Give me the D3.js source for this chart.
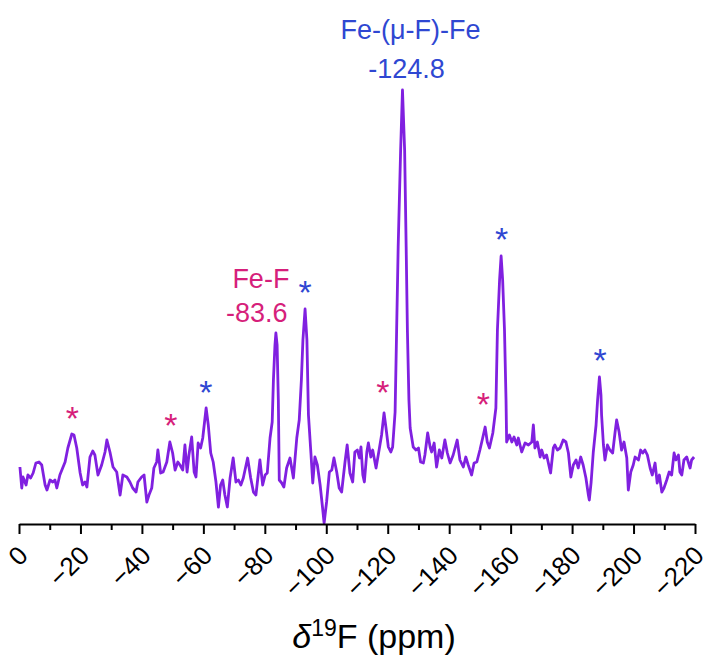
<!DOCTYPE html>
<html>
<head>
<meta charset="utf-8">
<script src="https://cdn.jsdelivr.net/npm/d3@7/dist/d3.min.js"></script>
<style>
  html, body { margin: 0; padding: 0; background: #fff; }
  svg { display: block; font-family: Arial, "Liberation Sans", sans-serif; }
</style>
</head>
<body>
<svg id="chart" width="711" height="656"></svg>
<script>
// 19F NMR spectrum: chemical shift (ppm) and intensity (a.u.)
const shiftPpm = [
  -0.3, -0.9, -1.3, -2.3, -2.9, -3.8, -4.6, -5.5, -6.5, -7.4, -8.5, -9.1, -10.1, -11.0, -11.7, -12.3,
  -13.3, -15.0, -15.9, -17.2, -17.9, -18.8, -19.9, -20.7, -21.5, -22.1, -23.1, -24.0, -24.7, -25.7,
  -26.9, -28.0, -28.6, -29.6, -30.6, -31.8, -32.9, -33.8, -35.1, -36.1, -37.0, -38.1, -38.7, -39.9,
  -40.7, -41.6, -42.3, -43.2, -43.9, -44.8, -45.2, -46.1, -46.9, -48.1, -49.1, -50.0, -50.8, -51.7,
  -52.4, -53.3, -54.0, -54.7, -55.3, -56.2, -57.0, -57.6, -58.3, -59.1, -59.8, -60.9, -61.6, -62.4,
  -63.2, -64.1, -64.9, -65.6, -66.3, -67.0, -67.8, -68.7, -69.7, -70.6, -71.4, -72.2, -73.0, -74.4,
  -75.4, -76.3, -77.1, -78.4, -79.3, -80.1, -80.8, -81.7, -82.4, -82.8, -83.3, -83.6, -84.0, -84.4,
  -84.7, -85.5, -86.2, -87.1, -88.2, -89.3, -90.4, -91.2, -91.9, -92.4, -93.1, -93.7, -94.2, -95.0,
  -95.6, -96.3, -97.1, -98.0, -98.8, -99.3, -100.1, -101.0, -101.8, -102.5, -103.4, -104.2, -105.0,
  -106.1, -106.8, -107.7, -108.6, -109.3, -110.1, -110.8, -111.3, -111.9, -112.4, -113.2, -113.7,
  -114.5, -115.1, -116.2, -117.3, -118.0, -118.8, -119.4, -120.2, -121.0, -121.6, -122.4, -122.9,
  -123.4, -124.2, -124.8, -125.5, -126.0, -126.4, -126.9, -127.3, -128.3, -129.2, -130.0, -130.7,
  -131.6, -132.1, -133.0, -133.8, -134.3, -135.1, -135.9, -136.8, -137.6, -138.6, -139.4, -140.3,
  -141.3, -142.6, -143.5, -144.6, -145.4, -146.2, -147.3, -148.1, -149.0, -150.0, -150.9, -151.7,
  -152.4, -153.1, -154.2, -155.2, -155.7, -156.4, -156.9, -157.4, -158.0, -158.5, -158.7, -159.6,
  -160.4, -161.1, -162.0, -162.5, -163.6, -164.7, -165.8, -166.9, -167.4, -167.9, -168.7, -169.6,
  -170.1, -170.9, -171.7, -173.0, -173.9, -174.4, -175.2, -176.1, -177.1, -178.0, -178.8, -179.6,
  -180.4, -181.3, -182.0, -182.8, -183.6, -184.5, -185.3, -185.6, -186.2, -186.9, -187.8, -188.3,
  -188.9, -189.4, -189.6, -190.2, -190.7, -191.5, -192.3, -193.2, -194.0, -194.5, -195.3, -196.1,
  -196.9, -197.8, -198.3, -199.1, -199.9, -200.5, -201.6, -202.3, -203.0, -203.7, -204.5, -205.4,
  -206.1, -207.0, -207.7, -208.4, -209.2, -209.9, -210.8, -211.6, -212.4, -213.2, -213.8, -214.6,
  -215.1, -215.7, -216.4, -217.3, -217.8, -218.4, -218.9, -219.7
];
const intensity = [
  57, 36, 47, 39, 49, 46, 51, 61, 62, 59, 39, 34, 44, 42, 44, 36,
  49, 62, 76, 90, 89, 76, 51, 39, 42, 37, 67, 73, 69, 49,
  59, 72, 84, 72, 57, 52, 29, 49, 47, 42, 36, 32, 42, 47,
  49, 22, 29, 36, 56, 62, 74, 51, 52, 62, 82, 71, 54, 62,
  59, 54, 79, 52, 69, 87, 52, 47, 81, 76, 86, 116, 99, 71,
  62, 42, 17, 39, 44, 29, 17, 46, 66, 42, 44, 39, 46, 66,
  46, 32, 29, 64, 39, 49, 51, 86, 102, 144, 179, 191, 179, 124,
  44, 41, 37, 56, 66, 46, 86, 104, 144, 184, 215, 184, 109, 71,
  41, 67, 59, 39, 16, 1, 22, 52, 54, 66, 52, 36, 32,
  62, 79, 51, 42, 72, 74, 66, 77, 49, 42, 72, 81,
  67, 74, 56, 76, 89, 111, 97, 77, 72, 77, 112, 194,
  277, 374, 434, 374, 277, 194, 124, 96, 77, 74, 76, 62,
  61, 69, 91, 77, 72, 81, 57, 74, 66, 84, 71, 61,
  69, 84, 64, 57, 67, 59, 49, 61, 62, 74, 86, 97,
  82, 76, 91, 116, 194, 244, 268, 244, 194, 124, 82, 89,
  82, 87, 79, 86, 72, 81, 79, 82, 99, 76, 82, 67,
  74, 66, 69, 51, 76, 79, 74, 76, 84, 82, 71, 47,
  59, 64, 56, 67, 59, 46, 29, 24, 42, 72, 99, 124,
  147, 129, 109, 79, 64, 79, 74, 71, 92, 104, 92, 74,
  82, 66, 34, 52, 59, 67, 64, 74, 71, 74, 69, 56,
  49, 61, 41, 49, 32, 36, 44, 52, 49, 71, 64, 69,
  52, 49, 64, 67, 62, 56, 64, 67
];

// Axis ticks
const majorTicks = [0, -20, -40, -60, -80, -100, -120, -140, -160, -180, -200, -220];
const minorTicks = [-10, -30, -50, -70, -90, -110, -130, -150, -170, -190, -210];

// Spinning sidebands (*) — shift and height of each marker
const pinkStarShift = [-17.35, -49.4, -118.4, -151.1];
const pinkStarHeight = [113, 106, 139.5, 127];
const blueStarShift = [-60.8, -93.1, -157.1, -189.1];
const blueStarHeight = [139, 239.5, 292, 171];

// Assigned resonances
const peakLabels = ["Fe-F", "Fe-(μ-F)-Fe"];
const peakShifts = [-83.6, -124.8];

const PINK = "#d61f7b";
const BLUE = "#2f47d2";
const LINE = "#8020e0";

const svg = d3.select("#chart");
const x = d3.scaleLinear().domain([0, -220]).range([19, 695]);
const y = d3.scaleLinear().domain([0, 434]).range([524, 90]);

const spectrum = shiftPpm.map((s, i) => ({ s, v: intensity[i] }));

// Spectrum trace
svg.append("path")
  .datum(spectrum)
  .attr("fill", "none")
  .attr("stroke", LINE)
  .attr("stroke-width", 2.8)
  .attr("stroke-linejoin", "round")
  .attr("d", d3.line().x(d => x(d.s)).y(d => y(d.v)));

// x axis
const axisY = 524;
const gMinor = svg.append("g").attr("transform", `translate(0,${axisY})`)
  .call(d3.axisBottom(x).tickValues(minorTicks).tickSize(6).tickSizeOuter(0).tickFormat(""));
gMinor.select(".domain").remove();
gMinor.selectAll("line").attr("stroke", "#000").attr("stroke-width", 2);

const gAxis = svg.append("g").attr("transform", `translate(0,${axisY})`)
  .call(d3.axisBottom(x).tickValues(majorTicks).tickSize(10).tickSizeOuter(0).tickFormat(d3.format("d")));
gAxis.select(".domain").attr("stroke", "#000").attr("stroke-width", 2.2);
gAxis.selectAll("line").attr("stroke", "#000").attr("stroke-width", 2);
gAxis.selectAll("text")
  .attr("x", 0).attr("y", 0).attr("dy", 0)
  .attr("text-anchor", "end")
  .attr("transform", "translate(10,33) rotate(-45)")
  .attr("fill", "#000")
  .style("font-size", "26px")
  .style("font-family", "Arial, 'Liberation Sans', sans-serif");

// Axis title: δ19F (ppm)
const title = svg.append("text")
  .attr("x", 374).attr("y", 648)
  .attr("text-anchor", "middle")
  .attr("fill", "#000")
  .style("font-size", "34px");
title.append("tspan").style("font-style", "italic").text("δ");
title.append("tspan").attr("dy", -12).style("font-size", "23px").text("19");
title.append("tspan").attr("dy", 12).text("F (ppm)");

// Sideband asterisks
function stars(shifts, heights, color) {
  svg.append("g").selectAll("text")
    .data(shifts.map((s, i) => ({ s, h: heights[i] })))
    .join("text")
    .attr("x", d => x(d.s))
    .attr("y", d => y(d.h))
    .attr("dy", "0.57em")
    .attr("text-anchor", "middle")
    .attr("fill", color)
    .style("font-size", "34px")
    .text("*");
}
stars(pinkStarShift, pinkStarHeight, PINK);
stars(blueStarShift, blueStarHeight, BLUE);

// Peak labels
const fmt = d3.format(".1f");
const peakAt = s => intensity[shiftPpm.indexOf(s)];

// Fe-F, terminal fluoride
const feF = svg.append("g").attr("fill", PINK).style("font-size", "27px").attr("text-anchor", "middle");
feF.append("text").attr("x", x(peakShifts[0]) - 15).attr("y", y(peakAt(peakShifts[0])) - 45).text(peakLabels[0]);
feF.append("text").attr("x", x(peakShifts[0]) - 19).attr("y", y(peakAt(peakShifts[0])) - 11)
  .text(fmt(peakShifts[0]).replace("−", "-"));

// Fe-(μ-F)-Fe, bridging fluoride
const bridge = svg.append("g").attr("fill", BLUE).style("font-size", "27px").attr("text-anchor", "middle");
bridge.append("text").attr("x", x(peakShifts[1]) + 8).attr("y", y(peakAt(peakShifts[1])) - 51).text(peakLabels[1]);
bridge.append("text").attr("x", x(peakShifts[1]) + 4).attr("y", y(peakAt(peakShifts[1])) - 12)
  .text(fmt(peakShifts[1]).replace("−", "-"));
</script>
</body>
</html>
